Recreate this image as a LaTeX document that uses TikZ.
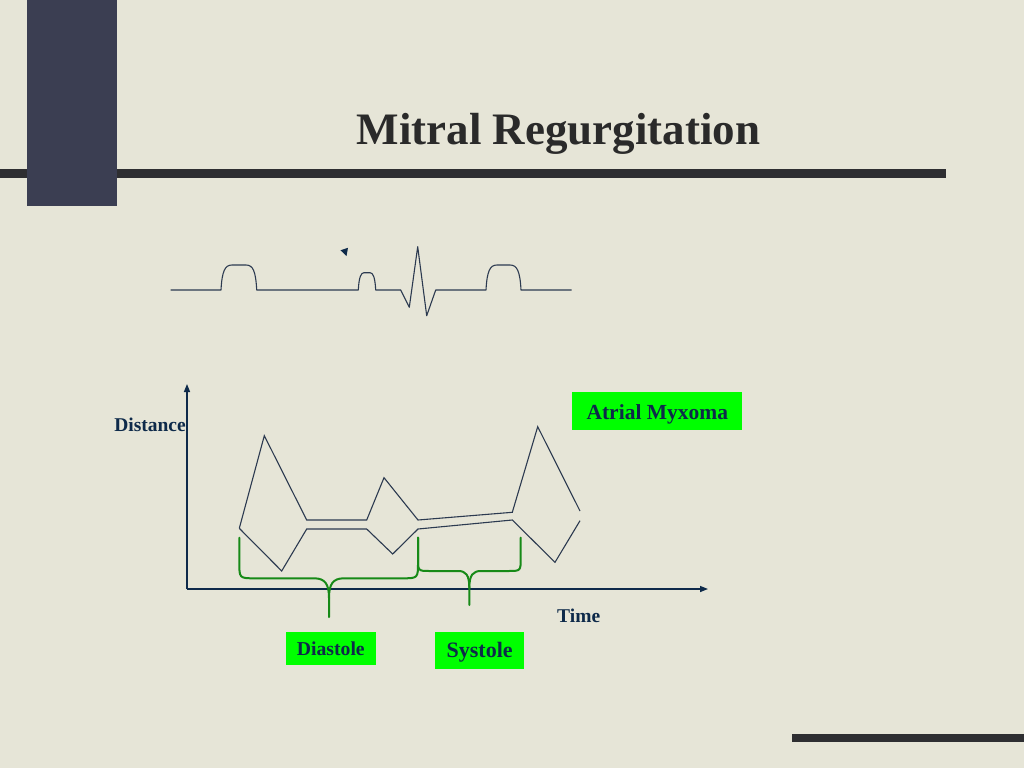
\documentclass[tikz,border=0pt]{standalone}
\usepackage{fontspec}
\setmainfont{Liberation Serif}
\usetikzlibrary{arrows.meta}
\definecolor{bg}{HTML}{E6E5D7}
\definecolor{panel}{HTML}{3B3E52}
\definecolor{barc}{HTML}{2E2E31}
\definecolor{titlec}{HTML}{2A2A2A}
\definecolor{navy}{HTML}{0E2A4A}
\definecolor{linec}{HTML}{2C3A50}
\definecolor{bracec}{HTML}{178A17}
\definecolor{boxgreen}{HTML}{00FF00}
\tikzset{
  ecg/.style={draw=linec, line width=1.1pt, line join=round},
  curve/.style={draw=linec, line width=1.1pt, line join=miter},
  axisline/.style={draw=navy, line width=1.4pt, -{Triangle[length=8pt,width=6pt]}},
  brace/.style={draw=bracec, line width=2pt, line cap=round},
  label/.style={text=navy, inner sep=0pt, font=\fontsize{19.5}{22}\selectfont\bfseries},
  greenbox/.style={fill=boxgreen, text=navy, inner sep=0pt, align=center}
}
\begin{document}
\begin{tikzpicture}[x=1pt,y=-1pt]
\useasboundingbox (0,0) rectangle (1024,768);
\fill[bg] (0,0) rectangle (1024,768);
% decorative bars
\fill[barc] (0,169.3) rectangle (946,178.3);
\fill[panel] (26.7,0) rectangle (116.7,206);
\fill[barc] (792,734) rectangle (1024,741.5);
% title
\node (title) [anchor=base, inner sep=0pt, text=titlec, font=\fontsize{45}{54}\selectfont\bfseries] at (558.5,144) {Mitral Regurgitation};
% ECG trace
\draw[ecg] (170.7,290) -- (221,290)
  .. controls (222,271) and (225,265) .. (232,265) -- (246,265)
  .. controls (253,265) and (255.7,271) .. (256.7,290)
  -- (358.3,290)
  .. controls (359,277) and (361,272.7) .. (364,272.7) -- (370,272.7)
  .. controls (373,272.7) and (375,277) .. (375.7,290)
  -- (400.7,290) -- (409.3,307.3) -- (417.7,246.7) -- (426.7,315.7) -- (435.7,290)
  -- (486,290)
  .. controls (487,271) and (490,265) .. (497,265) -- (510,265)
  .. controls (517,265) and (520,271) .. (521,290)
  -- (571.7,290);
\fill[navy] (340.5,250.3) -- (348,247.8) -- (346.5,256) -- cycle;
% axes
\coordinate (O) at (187,589);
\coordinate (Ytop) at (187,384);
\coordinate (Xend) at (708,589);
\draw[axisline] (O) -- (Ytop);
\draw[axisline] (O) -- (Xend);
\node (dist) [label, anchor=base east] at (186,431) {Distance};
\node (time) [label, anchor=base] at (578.7,622.3) {Time};
% motion curves
\draw[curve] (239.3,528.3) -- (264.3,435.7) -- (306.7,520) -- (366.7,520) -- (384,477.7)
  -- (418,520) -- (512.3,512.3) -- (537.7,426.7) -- (580,511);
\draw[curve] (239.3,528.3) -- (281.7,571) -- (306.7,529) -- (366.7,529) -- (392.7,554)
  -- (418,529) -- (512.3,520) -- (555,562.3) -- (580,520.7);
% braces
\draw[brace] (239.3,537.7) -- (239.3,562) .. controls (239.3,578.3) .. (255,578.3) -- (314,578.3)
  .. controls (325,578.3) and (329,584) .. (329,598) -- (329,617);
\draw[brace] (329,598) .. controls (329,584) and (333,578.3) .. (344,578.3) -- (402,578.3)
  .. controls (418,578.3) .. (418,562) -- (418,537.7);
\draw[brace] (418,537.7) -- (418,558) .. controls (418,571) .. (430,571) -- (458,571)
  .. controls (466,571) and (469.3,575) .. (469.3,588) -- (469.3,605);
\draw[brace] (469.3,588) .. controls (469.3,575) and (473,571) .. (481,571) -- (508,571)
  .. controls (520.7,571) .. (520.7,558) -- (520.7,537.7);
% green boxes
\node (myxoma) [greenbox, anchor=base, minimum width=170pt, text height=26.7pt, text depth=11.3pt,
  font=\fontsize{21.5}{24}\selectfont\bfseries] at (657.3,419) {Atrial Myxoma};
\node (diastole) [greenbox, anchor=base, minimum width=89.7pt, text height=24pt, text depth=9.3pt,
  font=\fontsize{19.7}{22}\selectfont\bfseries] at (330.8,655.7) {Diastole};
\node (systole) [greenbox, anchor=base, minimum width=89.3pt, text height=25.6pt, text depth=11.7pt,
  font=\fontsize{22}{24}\selectfont\bfseries] at (479.7,657.3) {Systole};
\end{tikzpicture}
\end{document}
